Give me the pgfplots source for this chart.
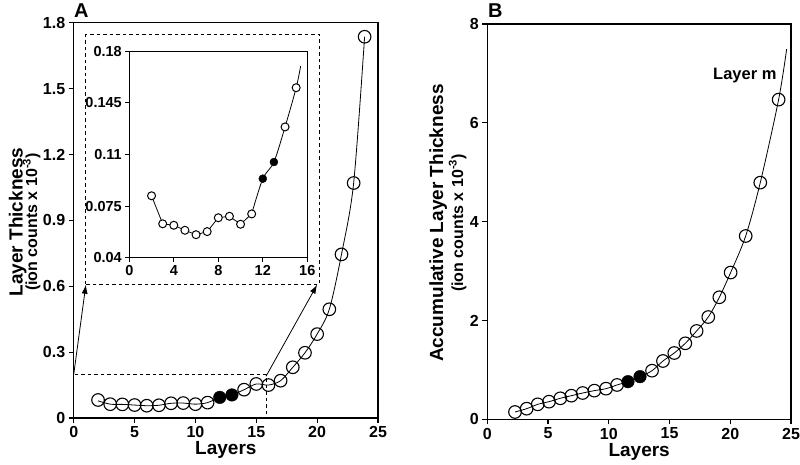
\documentclass[border=0pt]{standalone}
\usepackage{fontspec}
\setmainfont{Liberation Sans}
\usepackage{pgfplots}
\pgfplotsset{compat=1.18}
\usetikzlibrary{arrows.meta}
\begin{document}
\begin{tikzpicture}
\useasboundingbox (0pt,0pt) rectangle (800pt,464pt);
\pgfplotsset{
  every axis/.append style={
    scale only axis,
    axis line style={line width=1.1pt},
    tick style={line width=1.1pt, black},
    tick align=outside,
    major tick length=5pt,
    tick pos=left,
    ticklabel style={font=\bfseries\fontsize{16}{16}\selectfont},
    xlabel style={font=\bfseries\fontsize{19}{19}\selectfont},
    clip=false,
  }
}
% ---------------- Panel A ----------------
\begin{axis}[name=A, at={(73.7pt,46pt)}, anchor=south west, width=304.3pt, height=395.3pt,
  xmin=0, xmax=25, ymin=0, ymax=1.8,
  xtick={0,5,10,15,20,25}, xticklabels={0,5,10,15,20,25},
  ytick={0,0.3,0.6,0.9,1.2,1.5,1.8}, yticklabels={0,0.3,0.6,0.9,1.2,1.5,1.8},
  xlabel={Layers}, xlabel style={yshift=3pt},
]
\addplot[smooth, tension=0.5, line width=0.8pt] coordinates {
(2,0.078)(3,0.063)(4,0.062)(5,0.059)(6,0.056)(7,0.058)(8,0.067)(9,0.068)(10,0.063)(11,0.070)
(12,0.094)(13,0.105)(14,0.129)(15,0.155)(16,0.150)(17,0.170)(18,0.231)(19,0.297)(20,0.382)
(21,0.495)(22,0.745)(23,1.070)(23.9,1.736)};
\addplot[only marks, mark=o, mark size=6.3pt, mark options={line width=1.1pt}] coordinates {
(2,0.082)(3,0.063)(4,0.062)(5,0.059)(6,0.056)(7,0.058)(8,0.067)(9,0.068)(10,0.063)(11,0.070)
(14,0.129)(15,0.155)(16,0.150)(17,0.170)(18,0.231)(19,0.297)(20,0.382)
(21,0.495)(22,0.745)(23,1.070)(23.9,1.736)};
\addplot[only marks, mark=*, mark size=6.3pt, mark options={fill=black}] coordinates {
(12,0.094)(13,0.105)};
\draw[line width=1pt, dash pattern=on 3.5pt off 3pt] (axis cs:1,0.61) rectangle (axis cs:20.2,1.745);
\draw[line width=1pt, dash pattern=on 3.5pt off 3pt] (axis cs:0,0.004) -- (axis cs:15.8,0.004) -- (axis cs:15.8,0.198) -- (axis cs:0,0.198);
\draw[line width=0.8pt, -{Latex[length=9pt,width=6pt]}] (axis cs:0,0.198) -- (axis cs:1,0.607);
\draw[line width=0.8pt, -{Latex[length=9pt,width=6pt]}] (axis cs:15.8,0.19) -- (axis cs:20,0.607);
\end{axis}
% ---------------- Inset ----------------
\begin{axis}[at={(129.3pt,206.3pt)}, anchor=south west, width=178pt, height=206.4pt,
  xmin=0, xmax=16, ymin=0.04, ymax=0.18,
  ticklabel style={font=\bfseries\fontsize{14.5}{14.5}\selectfont},
  xtick={0,4,8,12,16}, xticklabels={0,4,8,12,16},
  ytick={0.04,0.075,0.11,0.145,0.18}, yticklabels={0.04,0.075,0.11,0.145,0.18},
  major tick length=4pt,
]
\addplot[line width=0.8pt] coordinates {
(2,0.082)(3,0.063)(4,0.062)(5,0.0586)(6,0.0556)(7,0.0577)(8,0.0671)(9,0.0681)(10,0.0627)(11,0.0697)};
\addplot[smooth, line width=0.8pt] coordinates {
(11,0.0697)(12,0.0936)(13,0.1049)(14,0.1287)(15,0.1553)(15.4,0.170)};
\addplot[only marks, mark=*, mark size=4pt, mark options={fill=white, line width=1pt}] coordinates {
(2,0.082)(3,0.063)(4,0.062)(5,0.0586)(6,0.0556)(7,0.0577)(8,0.0671)(9,0.0681)(10,0.0627)(11,0.0697)
(14,0.1287)(15,0.1553)};
\addplot[only marks, mark=*, mark size=4pt, mark options={fill=black}] coordinates {
(12,0.0936)(13,0.1049)};
\end{axis}
% ---------------- Panel B ----------------
\begin{axis}[name=B, at={(487.3pt,44.7pt)}, anchor=south west, width=303.7pt, height=395.3pt,
  xmin=0, xmax=25, ymin=0, ymax=8,
  xtick={0,5,10,15,20,25}, xticklabels={0,5,10,15,20,25},
  ytick={0,2,4,6,8}, yticklabels={0,2,4,6,8},
  xlabel={Layers}, xlabel style={yshift=3pt},
]
\addplot[smooth, line width=0.8pt] coordinates {
(2.28,0.148)(3.24,0.215)(4.15,0.303)(5.08,0.357)(6.01,0.425)(6.92,0.478)(7.85,0.532)(8.81,0.58)
(9.77,0.62)(10.68,0.695)(11.58,0.762)(12.57,0.863)(13.56,0.984)(14.46,1.18)(15.39,1.342)
(16.3,1.538)(17.23,1.788)(18.19,2.07)(19.1,2.47)(20.03,2.97)(21.27,3.71)(22.47,4.79)(23.98,6.47)(24.64,7.49)};
\addplot[only marks, mark=o, mark size=6.3pt, mark options={line width=1.1pt}] coordinates {
(2.28,0.148)(3.24,0.215)(4.15,0.303)(5.08,0.357)(6.01,0.425)(6.92,0.478)(7.85,0.532)(8.81,0.58)
(9.77,0.62)(10.68,0.695)(13.56,0.984)(14.46,1.18)(15.39,1.342)
(16.3,1.538)(17.23,1.788)(18.19,2.07)(19.1,2.47)(20.03,2.97)(21.27,3.71)(22.47,4.79)(23.98,6.47)};
\addplot[only marks, mark=*, mark size=6.3pt, mark options={fill=black}] coordinates {
(11.58,0.762)(12.57,0.863)};
\node[font=\bfseries\fontsize{16.5}{16.5}\selectfont, anchor=center] at (axis cs:21.2,6.95) {Layer m};
\end{axis}
% ---------------- labels ----------------
\node[rotate=90, anchor=base, font=\bfseries\fontsize{19}{19}\selectfont] at (22.7pt,242pt) {Layer Thickness};
\node[rotate=90, anchor=base, font=\bfseries\fontsize{16}{16}\selectfont] at (37pt,242pt) {(ion counts x 10\textsuperscript{-3})};
\node[rotate=90, anchor=base, font=\bfseries\fontsize{19}{19}\selectfont] at (443pt,241pt) {Accumulative Layer Thickness};
\node[rotate=90, anchor=base, font=\bfseries\fontsize{16}{16}\selectfont] at (463pt,241pt) {(ion counts x 10\textsuperscript{-3})};
\node[anchor=north west, inner sep=0pt, font=\bfseries\fontsize{20}{20}\selectfont] at (74pt,460pt) {A};
\node[anchor=north west, inner sep=0pt, font=\bfseries\fontsize{20}{20}\selectfont] at (488pt,460pt) {B};
\end{tikzpicture}
\end{document}
